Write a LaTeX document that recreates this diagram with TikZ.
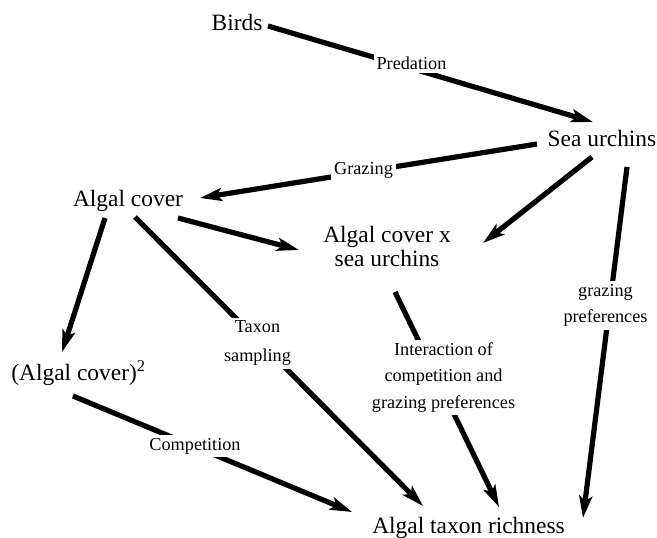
\documentclass[tikz,border=0pt]{standalone}
\usepackage{fontspec}
\setmainfont{Liberation Serif}
\usetikzlibrary{arrows.meta}
\begin{document}
\begin{tikzpicture}[x=1bp,y=-1bp,
  var/.style={font=\fontsize{23.5}{25}\selectfont, inner sep=0pt, anchor=base},
  lbl/.style={font=\fontsize{18.3}{26.5}\selectfont, fill=white, inner xsep=3bp, inner ysep=3bp, align=center},
  plain/.style={line width=5.2bp},
  edge/.style={plain, -{Stealth[length=22bp,width=13bp,inset=5bp]}}]
\useasboundingbox (0,0) rectangle (657,538);
% variables
\node[var] (birds) at (237,31) {Birds};
\node[var] (su) at (602,147) {Sea urchins};
\node[var] (ac) at (128,207) {Algal cover};
\node[var, anchor=center, align=center] (axs) at (387,246.5) {Algal cover x\\sea urchins};
\node[var] (ac2) at (78.5,380) {(Algal cover)\textsuperscript{2}};
\node[var] (atr) at (468.5,533.5) {Algal taxon richness};
% connectors
\draw[edge] ([shift={(31,-5)}]birds.base) -- ([shift={(-9,-25)}]su.base);
\draw[edge] ([shift={(-65,-3)}]su.base) -- ([shift={(72,-9)}]ac.base);
\draw[edge] ([shift={(-10,10)}]su.base) -- ([shift={(96,-3.5)}]axs.center);
\draw[edge] ([shift={(25,20)}]su.base) -- ([shift={(114.5,-15.5)}]atr.base);
\draw[edge] ([shift={(50,11)}]ac.base) -- ([shift={(-88,3.5)}]axs.center);
\draw[edge] ([shift={(-23,11)}]ac.base) -- ([shift={(-16.5,-28)}]ac2.base);
\draw[edge] ([shift={(7,10)}]ac.base) -- ([shift={(-45.5,-27.5)}]atr.base);
\draw[edge] ([shift={(8,45.5)}]axs.center) -- ([shift={(30.5,-26.5)}]atr.base);
\draw[edge] ([shift={(-5.5,16)}]ac2.base) -- ([shift={(-116.5,-21.5)}]atr.base);
% connector labels
\node[lbl, anchor=base] (lpred) at (411.5,70) {Predation};
\node[lbl, anchor=base] (lgraz) at (363.5,175) {Grazing};
\node[lbl] (lgpref) at (605.5,305.5) {grazing\\preferences};
\node[lbl, font=\fontsize{18.3}{29}\selectfont] (ltaxon) at (257.5,343.4) {Taxon\\sampling};
\node[lbl] (linter) at (443.5,377.3) {Interaction of\\competition and\\grazing preferences};
\node[lbl, anchor=base] (lcomp) at (195,450) {Competition};
\end{tikzpicture}
\end{document}
